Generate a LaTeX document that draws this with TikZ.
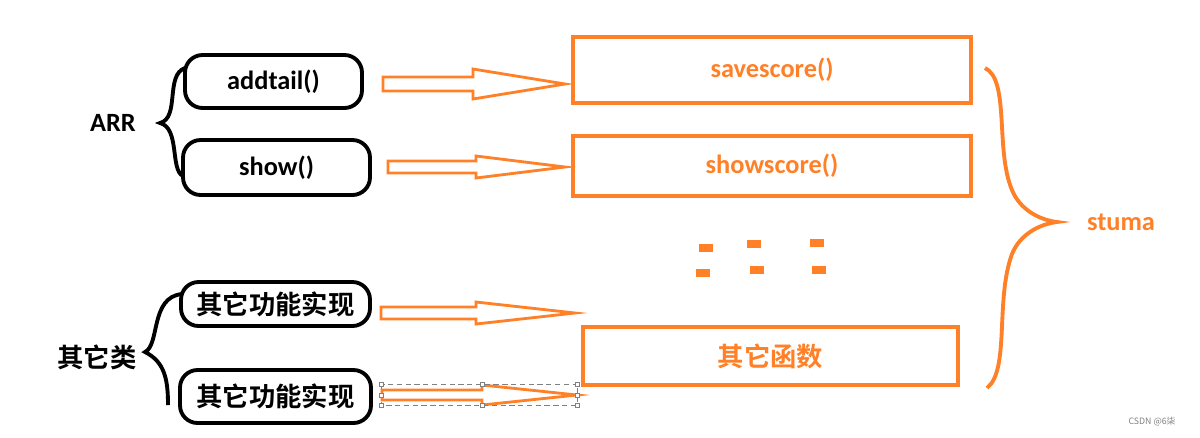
\documentclass[tikz,border=0pt]{standalone}
\usepackage{fontspec}
\setmainfont{Carlito}
\newfontfamily\cjk{Noto Sans CJK SC}[BoldFont={Noto Sans CJK SC Bold}]
\usetikzlibrary{positioning}
\definecolor{orng}{RGB}{255,128,39}
\tikzset{
  blk/.style={draw,line width=2.2pt,rounded corners=10pt},
  org/.style={draw=orng,line width=2.3pt},
  txt/.style={font=\fontsize{15}{18}\selectfont\bfseries},
  otxt/.style={txt,text=orng},
  dot/.style={fill=orng,minimum width=.28cm,minimum height=.16cm,inner sep=0pt},
}
% hollow arrow: x1 x2 y shaft-halfheight head-start head-halfheight
\newcommand{\harrow}[6]{%
  \draw[orng,line width=1.6pt,line join=miter]
    (#1,{#3+#4}) -- (#5,{#3+#4}) -- (#5,{#3+#6}) -- (#2,#3) -- (#5,{#3-#6})
    -- (#5,{#3-#4}) -- (#1,{#3-#4}) -- cycle;}
\begin{document}
\begin{tikzpicture}[x=0.02cm,y=-0.02cm]
\useasboundingbox (0,0) rectangle (1200,437);

      \path (273.5,81.5) node[blk,minimum width=3.54cm,minimum height=1.06cm] (add) {};
      \node[txt] at (add) {addtail()};
      \path (276.5,167.5) node[blk,minimum width=3.74cm,minimum height=1.1cm] (show) {};
      \node[txt] at (show) {show()};
      \path (275.5,304) node[blk,minimum width=3.78cm,minimum height=.88cm] (oth1) {};
      \node[txt] at (oth1) {\cjk 其它功能实现};
      \path (275.5,396.5) node[blk,minimum width=3.82cm,minimum height=1.06cm] (oth2) {};
      \node[txt] at (oth2) {\cjk 其它功能实现};

      \node[txt] (arr) at (113,123) {ARR};
      \node[txt] (qtl) at (97,357) {\cjk 其它类};

      \path (772,70) node[org,minimum width=7.96cm,minimum height=1.32cm] (save) {};
      \node[otxt] at (save) {savescore()};
      \path (772,166) node[org,minimum width=7.96cm,minimum height=1.2cm] (sscore) {};
      \node[otxt] at (sscore) {showscore()};
      \path (770.5,356) node[org,minimum width=7.5cm,minimum height=1.16cm] (func) {};
      \node[otxt] at (func) {\cjk 其它函数};

      \node[otxt] (stuma) at (1121,222) {stuma};

      \node[dot] (d1) at (706,248) {};
      \node[dot] (d2) at (754,244) {};
      \node[dot] (d3) at (817,243) {};
      \node[dot] (d4) at (703,273) {};
      \node[dot] (d5) at (757,270) {};
      \node[dot] (d6) at (819,270) {};

      % braces
      \draw[line width=2.2pt] (185,68) .. controls (165,75) and (180,118) .. (160,123)
        .. controls (180,128) and (170,170) .. (183,176);
      \draw[line width=2.2pt] (182,294) .. controls (150,297) and (160,345) .. (145,352)
        .. controls (165,362) and (168,380) .. (168,405);
      \draw[orng,line width=2.2pt] (985,68) .. controls (1010,80) and (995,150) .. (1012,190)
        .. controls (1020,210) and (1040,220) .. (1057,222)
        .. controls (1040,224) and (1020,234) .. (1012,254)
        .. controls (995,300) and (1010,370) .. (987,388);

      % arrows
      \harrow{383}{565}{84}{7}{473}{15}
      \harrow{388}{565}{167}{6}{476}{11}
      \harrow{381}{575}{313}{6}{476}{11}
      \harrow{382}{577}{395}{5}{482}{10}

      \draw[gray,densely dashed,line width=.4pt] (381,384) rectangle (577,405);
      \foreach \x in {381,482,577}
        \foreach \y in {384,405}
          \draw[gray,fill=white,line width=.4pt] (\x-2,\y-2) rectangle (\x+2,\y+2);
      \foreach \x in {381,577}
        \draw[gray,fill=white,line width=.4pt] (\x-2,393) rectangle (\x+2,397);

      \node[text=gray,font=\fontsize{5}{6}\selectfont\cjk] (mark) at (1152,422) {CSDN @6柒};

\end{tikzpicture}
\end{document}
